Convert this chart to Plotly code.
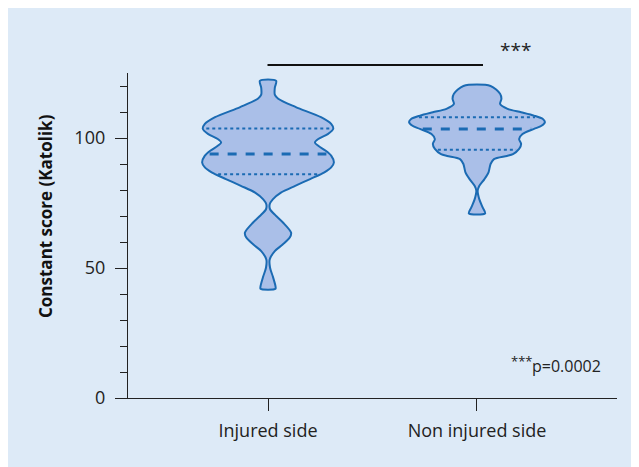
import numpy as np
import plotly.graph_objects as go

# ---------------- data ----------------
categories = ["Injured side", "Non injured side"]

# violin outline: score levels (top -> bottom) and relative density (0..1)
injured_levels = [122.0, 119.3, 116.7, 115.1, 111.9, 108.0, 105.4, 103.5, 101.5, 99.6,
                  98.3, 97.0, 95.1, 93.2, 90.6, 88.7, 86.8, 84.2, 81.6, 79.0,
                  76.4, 74.5, 72.6, 70.0, 67.5, 63.6, 61.7, 59.1, 56.5, 53.3,
                  50.1, 46.8, 43.0, 42.0]
injured_density = [0.12, 0.10, 0.10, 0.15, 0.41, 0.78, 0.93, 0.96, 0.88, 0.74,
                   0.69, 0.74, 0.85, 0.93, 0.97, 0.93, 0.83, 0.62, 0.40, 0.19,
                   0.07, 0.025, 0.03, 0.12, 0.22, 0.34, 0.32, 0.22, 0.10, 0.025,
                   0.03, 0.07, 0.11, 0.11]

noninjured_levels = [120.0, 117.0, 115.1, 113.1, 111.2, 109.9, 108.6, 107.3, 106.1, 104.7,
                     103.5, 101.5, 99.6, 97.7, 95.8, 93.8, 93.1, 91.9, 90.0, 86.8,
                     84.2, 81.6, 79.7, 76.4, 73.2, 71.0]
noninjured_density = [0.20, 0.34, 0.36, 0.34, 0.45, 0.65, 0.84, 0.97, 1.00, 0.95,
                      0.84, 0.67, 0.62, 0.65, 0.62, 0.53, 0.44, 0.25, 0.20, 0.17,
                      0.11, 0.035, 0.01, 0.035, 0.085, 0.12]

# quartiles: Q1, median, Q3
injured_quartiles = [86.1, 93.8, 103.7]
noninjured_quartiles = [95.5, 103.5, 108.0]

y_tick_values = [0, 50, 100]
y_title = "Constant score (Katolik)"
sig_label = "***"
p_stars = "***"
p_value_label = "p=0.0002"

# ---------------- styling ----------------
FILL = "#aabfe8"
EDGE = "#1b6bb3"
BG = "#ddeaf7"
HALF = 0.325          # max half-width of a violin in category units
FONT = "Open Sans"

fig = go.Figure()

groups = [
    (0, injured_levels, injured_density, injured_quartiles),
    (1, noninjured_levels, noninjured_density, noninjured_quartiles),
]

for center, levels, dens, quart in groups:
    lv = np.array(levels, dtype=float)
    dn = np.array(dens, dtype=float) * HALF
    xs = np.concatenate([center + dn, (center - dn)[::-1], [center + dn[0]]])
    ys = np.concatenate([lv, lv[::-1], [lv[0]]])
    fig.add_trace(go.Scatter(
        x=xs, y=ys, mode="lines", fill="toself", fillcolor=FILL,
        line=dict(color=EDGE, width=2, shape="spline", smoothing=0.8),
        hoverinfo="skip", showlegend=False))
    asc_l = lv[::-1]
    asc_d = dn[::-1]
    for i, q in enumerate(quart):
        w = float(np.interp(q, asc_l, asc_d)) * 0.95
        is_med = (i == 1)
        fig.add_trace(go.Scatter(
            x=[center - w, center + w], y=[q, q], mode="lines",
            line=dict(color=EDGE, width=3 if is_med else 2,
                      dash="dash" if is_med else "dot"),
            hoverinfo="skip", showlegend=False))

# page is offset by the 8px body margin; plot area in page px: x 128..617, y 73..398
PW, PH = 489, 325
ML, MR, MT, MB = 120, 30, 65, 77


def px(xp):
    return (xp - 128) / PW


def py(yp):
    return (398 - yp) / PH


# significance bar
fig.add_shape(type="line", xref="paper", yref="paper",
              x0=px(267.5), x1=px(483), y0=py(65), y1=py(65),
              line=dict(color="#111111", width=2))

fig.add_annotation(text=sig_label, xref="paper", yref="paper",
                   x=px(515), y=py(50), showarrow=False,
                   xanchor="center", yanchor="middle",
                   font=dict(family=FONT, size=19, color="#222222"))
fig.add_annotation(text=p_value_label, xref="paper", yref="paper",
                   x=px(603), y=py(366), showarrow=False,
                   xanchor="right", yanchor="middle",
                   font=dict(family=FONT, size=16, color="#222222"))
fig.add_annotation(text=p_stars, xref="paper", yref="paper",
                   x=px(534), y=py(361), showarrow=False,
                   xanchor="right", yanchor="middle",
                   font=dict(family=FONT, size=13, color="#222222"))
fig.add_annotation(text=y_title, xref="paper", yref="paper",
                   x=px(46), y=py(216), showarrow=False,
                   textangle=-90, xanchor="center", yanchor="middle",
                   font=dict(family=FONT, size=17, color="#111111", weight="bold"))

fig.update_layout(
    width=639, height=467,
    margin=dict(l=ML, r=MR, t=MT, b=MB),
    paper_bgcolor=BG, plot_bgcolor="rgba(0,0,0,0)",
    font=dict(family=FONT, color="#222222"),
    xaxis=dict(range=[-0.67, 1.67], tickmode="array", tickvals=[0, 1],
               ticktext=categories, ticks="outside", ticklen=12, tickwidth=1.3,
               tickcolor="#222222", showline=True, linecolor="#222222", linewidth=1.3,
               ticklabelstandoff=4,
               showgrid=False, zeroline=False, tickfont=dict(size=18, color="#222222")),
    yaxis=dict(range=[0, 125], tickmode="array", tickvals=y_tick_values,
               ticks="outside", ticklen=12, tickwidth=1.3, tickcolor="#222222",
               minor=dict(tickmode="linear", tick0=0, dtick=10, ticks="outside",
                          ticklen=7, tickwidth=1.3, tickcolor="#222222", showgrid=False),
               ticklabelstandoff=6,
               showline=True, linecolor="#222222", linewidth=1.3,
               showgrid=False, zeroline=False, tickfont=dict(size=18, color="#222222")),
)

fig.write_html("out.html")
